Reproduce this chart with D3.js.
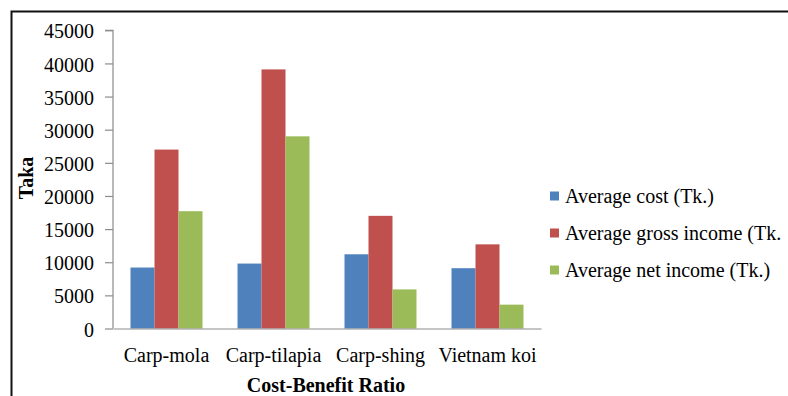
<!DOCTYPE html>
<html>
<head>
<meta charset="utf-8">
<script src="https://cdn.jsdelivr.net/npm/d3@7"></script>
<style>
  html, body { margin: 0; padding: 0; background: #fff; }
  svg { display: block; }
  text { font-family: "Liberation Serif", "Times New Roman", serif; fill: #000; }
</style>
</head>
<body>
<svg id="chart" width="788" height="396"></svg>
<script>
// Farm types compared
const categories = ["Carp-mola", "Carp-tilapia", "Carp-shing", "Vietnam koi"];
// Series names
const seriesNames = ["Average cost (Tk.)", "Average gross income (Tk.", "Average net income (Tk.)"];
// Values in Taka, one array per series
const averageCost = [9200, 9800, 11200, 9100];
const averageGross = [27000, 39100, 17000, 12700];
const averageNet = [17700, 29000, 5900, 3600];
const yTicks = [0, 5000, 10000, 15000, 20000, 25000, 30000, 35000, 40000, 45000];
const colors = ["#4F81BD", "#C0504D", "#9BBB59"];

const seriesValues = [averageCost, averageGross, averageNet];
const svg = d3.select("#chart");

// Frame around the figure
svg.append("rect")
  .attr("x", 11.5).attr("y", 11.5)
  .attr("width", 900).attr("height", 500)
  .attr("fill", "none").attr("stroke", "#111").attr("stroke-width", 2);

const plot = { left: 113, right: 541, top: 30.3, bottom: 328.5 };

const x = d3.scaleBand().domain(categories).range([plot.left, plot.right]).paddingInner(0).paddingOuter(0);
const y = d3.scaleLinear().domain([0, 45000]).range([plot.bottom, plot.top]);
const barW = 24;
const xs = d3.scaleBand().domain(d3.range(seriesValues.length))
  .range([0, barW * seriesValues.length]);

// Bars
const groups = svg.append("g").selectAll("g")
  .data(categories)
  .join("g")
  .attr("transform", d => `translate(${x(d) + x.bandwidth() / 2 - xs.range()[1] / 2},0)`);

groups.selectAll("rect")
  .data((d, i) => seriesValues.map((s, k) => ({ k, v: s[i] })))
  .join("rect")
  .attr("x", d => xs(d.k))
  .attr("width", xs.bandwidth())
  .attr("y", d => y(d.v))
  .attr("height", d => y(0) - y(d.v))
  .attr("fill", d => colors[d.k]);

// Y axis
const yAxis = d3.axisLeft(y).tickValues(yTicks).tickSize(8).tickPadding(11).tickFormat(d3.format("d"));
const gy = svg.append("g").attr("transform", `translate(${plot.left},0)`).call(yAxis);
gy.select(".domain").attr("stroke", "#8c8c8c").attr("stroke-width", 1.2).attr("d", `M-8,${y(45000)}H0V${y(0)}`);
gy.selectAll(".tick line").attr("stroke", "#8c8c8c").attr("stroke-width", 1.2);
gy.selectAll(".tick text")
  .attr("font-size", 20).attr("fill", "#000").attr("dy", "0.38em");

// X axis
const xAxis = d3.axisBottom(x).tickSize(0).tickPadding(19);
const gx = svg.append("g").attr("transform", `translate(0,${plot.bottom})`).call(xAxis);
gx.select(".domain").attr("stroke", "#8c8c8c").attr("stroke-width", 1.2);
gx.selectAll(".tick text")
  .attr("font-size", 20).attr("fill", "#000").attr("dy", "0.71em");

// Axis titles
svg.append("text")
  .attr("transform", `translate(33,178) rotate(-90)`)
  .attr("text-anchor", "middle")
  .attr("font-size", 20).attr("font-weight", "bold")
  .text("Taka");

svg.append("text")
  .attr("x", 326).attr("y", 392)
  .attr("text-anchor", "middle")
  .attr("font-size", 20).attr("font-weight", "bold")
  .text("Cost-Benefit Ratio");

// Legend
const legend = svg.append("g").selectAll("g")
  .data(seriesNames)
  .join("g")
  .attr("transform", (d, i) => `translate(550,${196 + i * 37})`);
legend.append("rect")
  .attr("x", 0).attr("y", -4.5).attr("width", 9).attr("height", 9)
  .attr("fill", (d, i) => colors[i]);
legend.append("text")
  .attr("x", 15).attr("y", 0).attr("dy", "0.35em")
  .attr("font-size", 20)
  .text(d => d);
</script>
</body>
</html>
